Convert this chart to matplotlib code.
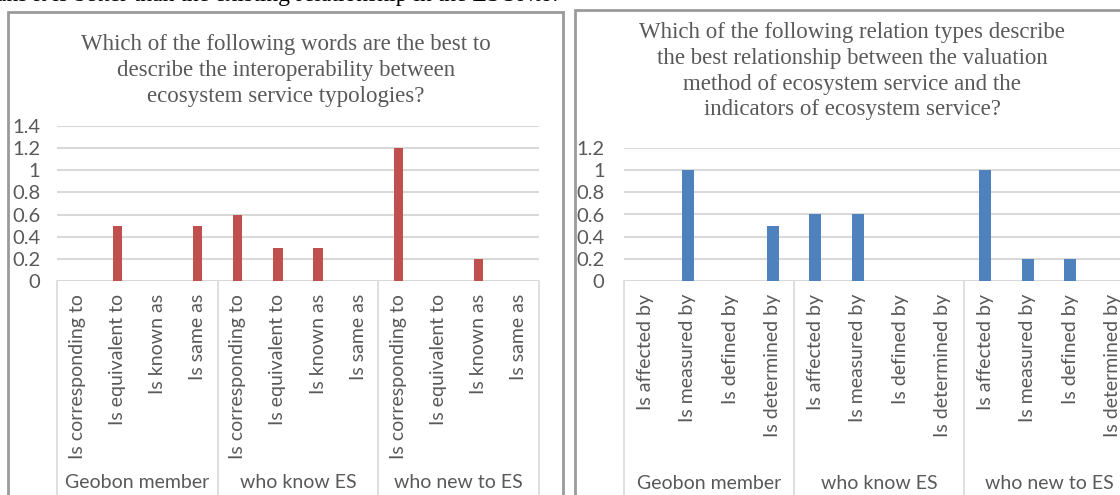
import matplotlib.pyplot as plt
from matplotlib.patches import Rectangle

groups = ["Geobon member", "who know ES", "who new to ES"]

words_labels = ["Is corresponding to", "Is equivalent to", "Is known as", "Is same as"]
words_values = [0, 0.5, 0, 0.5,
                0.6, 0.3, 0.3, 0,
                1.2, 0, 0.2, 0]
words_yticks = [0, 0.2, 0.4, 0.6, 0.8, 1, 1.2, 1.4]
words_title = ("Which of the following words are the best to\n"
               "describe the interoperability between\n"
               "ecosystem service typologies?")

rel_labels = ["Is affected by", "Is measured by", "Is defined by", "Is determined by"]
rel_values = [0, 1, 0, 0.5,
              0.6, 0.6, 0, 0,
              1, 0.2, 0.2, 0]
rel_yticks = [0, 0.2, 0.4, 0.6, 0.8, 1, 1.2]
rel_title = ("Which of the following relation types describe\n"
             "the best relationship between the valuation\n"
             "method of ecosystem service and the\n"
             "indicators of ecosystem service?")

top_text = "ans it is better than the existing relationship in the ESONto."

W, H = 1120, 495
grey_txt = "#595959"
grid_col = "#d9d9d9"
sans = ["Lato", "DejaVu Sans"]
serif = ["Liberation Serif", "DejaVu Serif"]

fig = plt.figure(figsize=(W / 100, H / 100), dpi=100)


def px(x0, y0, x1, y1):
    # pixel box (top-left origin) -> figure fraction rect
    return [x0 / W, 1 - y1 / H, (x1 - x0) / W, (y1 - y0) / H]


def draw_chart(rect, labels, values, yticks, color, bar_w, ypad, bottom_px, axis_top_px):
    ax = fig.add_axes(rect)
    cats = [lab for g in groups for lab in labels]
    xs = list(range(len(cats)))
    ax.bar(xs, values, width=bar_w, color=color, zorder=3)
    ax.set_xlim(-0.5, len(cats) - 0.5)
    ax.set_ylim(0, max(yticks))
    ax.set_yticks(yticks)
    ax.set_yticklabels([f"{v:g}" for v in yticks], family=sans, fontsize=14.5, color=grey_txt)
    ax.tick_params(axis="y", length=0, pad=ypad)
    ax.yaxis.grid(True, color=grid_col, lw=1.5, zorder=0)
    ax.set_xticks([])
    for s in ax.spines.values():
        s.set_visible(False)
    ax.axhline(0, color=grid_col, lw=1.2, zorder=2)
    # depth of category axis below the baseline, in axes units
    ah = rect[3] * H
    depth = (bottom_px - axis_top_px) / ah
    n = len(labels)
    for b in range(len(groups) + 1):
        ax.axvline(b * n - 0.5, ymin=-depth, ymax=0, color=grid_col, lw=1.2, clip_on=False)
    for i, lab in enumerate(cats):
        ax.text(i, -13 / ah, lab, rotation=90, ha="center", va="top",
                family=sans, fontsize=14, color=grey_txt, transform=ax.get_xaxis_transform())
    for g, name in enumerate(groups):
        ax.text(g * n + (n - 1) / 2, -(483 - axis_top_px) / ah, name, ha="center", va="center",
                family=sans, fontsize=14, color=grey_txt, transform=ax.get_xaxis_transform())
    return ax


draw_chart(px(57, 126, 539, 281), words_labels, words_values, words_yticks,
           "#C0504D", 0.23, 12, 500, 281)
draw_chart(px(624, 148, 1134, 281), rel_labels, rel_values, rel_yticks,
           "#4F81BD", 0.28, 14, 500, 281)

fig.text(286 / W, 1 - 34 / H, words_title, ha="center", va="top", family=serif,
         fontsize=16.5, color=grey_txt, linespacing=1.3)
fig.text(852 / W, 1 - 22 / H, rel_title, ha="center", va="top", family=serif,
         fontsize=16.5, color=grey_txt, linespacing=1.3)

# chart frames
fig.patches.append(Rectangle((8 / W, -0.05), (563 - 8) / W, 1.05 - 12 / H,
                             transform=fig.transFigure, fill=False, ec="#9a9a9a", lw=2))
fig.patches.append(Rectangle((575 / W, -0.05), 0.6, 1.05 - 10 / H,
                             transform=fig.transFigure, fill=False, ec="#9a9a9a", lw=2))

# clipped document text above the charts
fig.text(-4 / W, 1 - 1 / H, top_text, ha="left", va="baseline", family=serif,
         fontsize=17, color="black")

fig.savefig("out.png", dpi=100)
